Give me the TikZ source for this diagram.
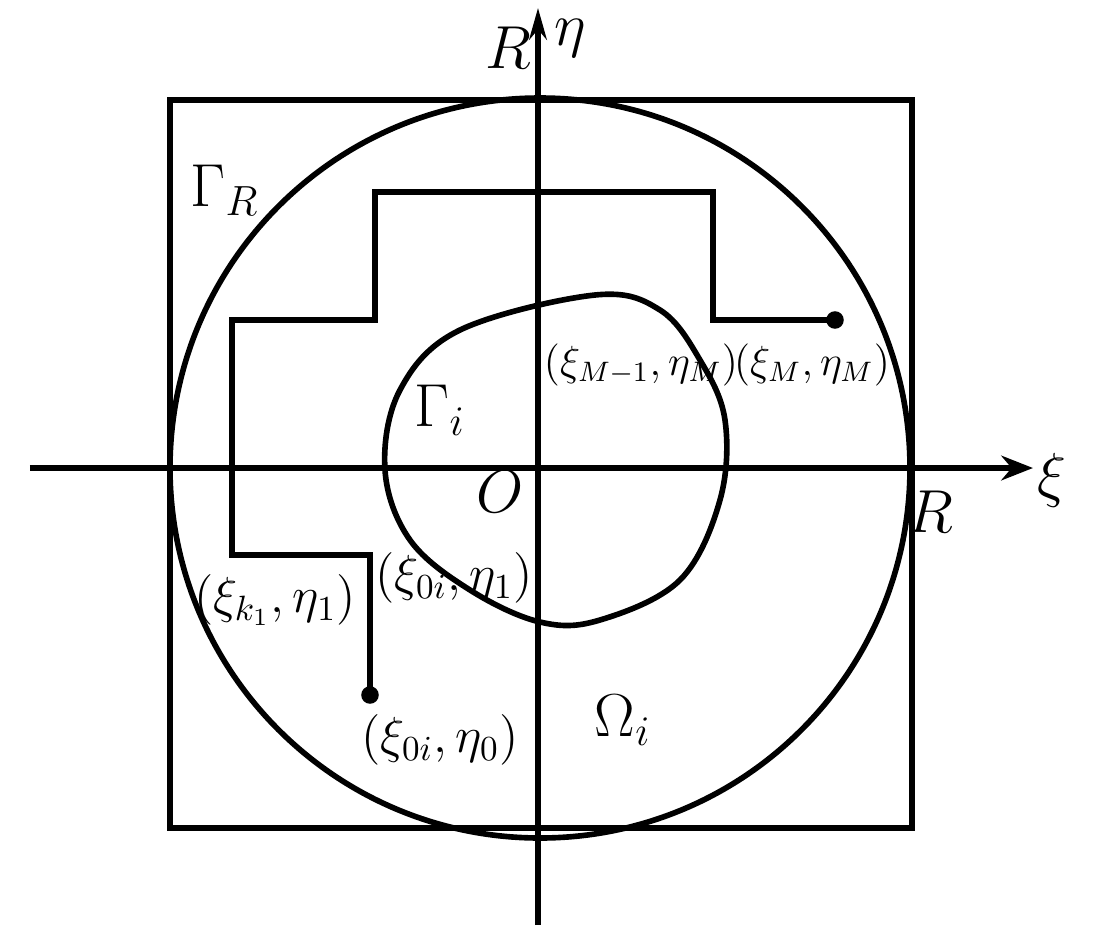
\documentclass[tikz,border=0pt]{standalone}
\usetikzlibrary{arrows.meta}
\tikzset{
  linea/.style={line width=1.6pt},
  etiq/.style={font=\Large, inner sep=1pt},
  punto/.style={circle, fill=black, inner sep=0pt, minimum size=5pt}
}
\begin{document}
\begin{tikzpicture}
\useasboundingbox (-5.38,-4.63) rectangle (5.58,4.68);

% Cuadrado y circulo
\draw [linea] (-3.68,-3.6) rectangle (3.74,3.68);
\draw [linea] (0.02,0) circle (3.7cm);
\node [etiq, font=\LARGE] (gR) at (-3.13,2.78) {$\Gamma_R$};

% Ejes
\coordinate (xi0) at (-5.08,0);
\coordinate (xi1) at (4.95,0);
\coordinate (eta0) at (0,-4.57);
\coordinate (eta1) at (0,4.6);
\draw [linea, -{Stealth[length=9pt,width=7pt]}] (xi0) -- (xi1);
\draw [linea, -{Stealth[length=9pt,width=5pt]}] (eta0) -- (eta1);
\node [etiq, font=\LARGE] (ejeXi) at (5.14,-0.12) {$\xi$};
\node [etiq, font=\LARGE] (ejeEta) at (0.32,4.3) {$\eta$};
\node [etiq, font=\LARGE] (rArr) at (-0.3,4.2) {$R$};
\node [etiq, font=\LARGE] (rDer) at (3.92,-0.44) {$R$};
\node [etiq, font=\LARGE] (orig) at (-0.38,-0.24) {$O$};

% Curva Gamma_i
\draw [linea] plot [smooth cycle, tension=0.6] coordinates {
  (0.57,1.73) (-0.78,1.38) (-1.38,0.78) (-1.53,-0.02) (-1.28,-0.72)
  (-0.68,-1.22) (0.02,-1.54) (0.62,-1.52) (1.42,-1.12) (1.82,-0.32)
  (1.87,0.48) (1.62,1.08) (1.22,1.58)};
\node [etiq, font=\LARGE] (gi) at (-0.98,0.58) {$\Gamma_i$};
\node [etiq, font=\LARGE] (omega) at (0.85,-2.52) {$\Omega_i$};

% Camino escalonado
\node [punto] (p0) at (-1.68,-2.27) {};
\node [punto] (pM) at (2.97,1.48) {};
\draw [linea] (p0.center) -- (-1.68,-0.87) -- (-3.06,-0.87) -- (-3.06,1.48)
  -- (-1.63,1.48) -- (-1.63,2.76) -- (1.75,2.76) -- (1.75,1.48) -- (pM.center);

% Etiquetas de puntos
\node [etiq] (lk1) at (-2.63,-1.32) {$(\xi_{k_1},\eta_1)$};
\node [etiq] (l01) at (-0.84,-1.1) {$(\xi_{0i},\eta_1)$};
\node [etiq] (l00) at (-0.98,-2.72) {$(\xi_{0i},\eta_0)$};
\node [etiq, font=\large] (lM1) at (1.03,1.03) {$(\xi_{M-1},\eta_M)$};
\node [etiq, font=\large] (lM) at (2.74,1.03) {$(\xi_M,\eta_M)$};
\end{tikzpicture}
\end{document}
